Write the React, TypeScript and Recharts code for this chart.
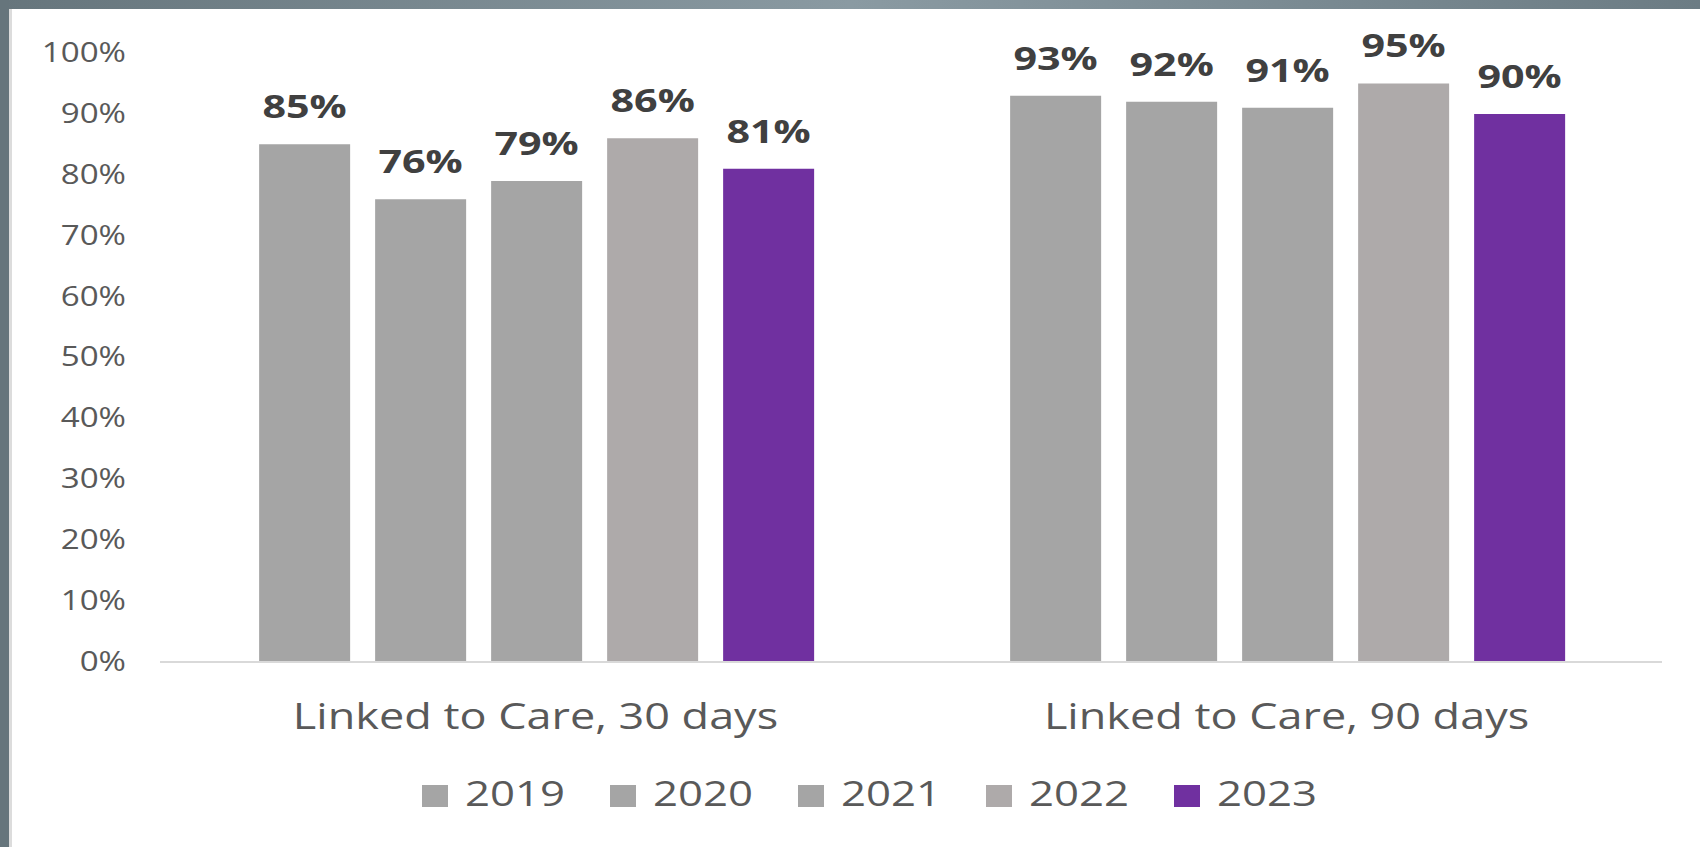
import React from 'react';
import { BarChart, Bar, XAxis, YAxis, Legend, LabelList } from 'recharts';

const categories = ['Linked to Care, 30 days', 'Linked to Care, 90 days'];
const years = ['2019', '2020', '2021', '2022', '2023'];
const values2019 = [85, 93];
const values2020 = [76, 92];
const values2021 = [79, 91];
const values2022 = [86, 95];
const values2023 = [81, 90];
const yTicks = [0, 10, 20, 30, 40, 50, 60, 70, 80, 90, 100];

const seriesValues = [values2019, values2020, values2021, values2022, values2023];
const colors = ['#a5a5a5', '#a5a5a5', '#a5a5a5', '#aeaaaa', '#7030a0'];

const data = categories.map((name, i) => {
  const row: Record<string, string | number> = { name };
  years.forEach((y, j) => {
    row[y] = seriesValues[j][i];
  });
  return row;
});

const FONT = '"Open Sans", sans-serif';
// the reference text is a bit wider than Open Sans, so stretch it horizontally
const STRETCH = 1.25;

const stretch = (x: number, y: number) =>
  `translate(${x} ${y}) scale(${STRETCH} 1) translate(${-x} ${-y})`;

const YTick = (props: any) => {
  const { x, y, payload } = props;
  return (
    <text x={x} y={y} dy={9} textAnchor="end" fontFamily={FONT} fontSize={26.5} fill="#595959" transform={stretch(x, y)}>
      {`${payload.value}%`}
    </text>
  );
};

const XTick = (props: any) => {
  const { x, y, payload } = props;
  return (
    <text x={x} y={y} dy={67} textAnchor="middle" fontFamily={FONT} fontSize={36} fill="#595959" transform={stretch(x, y)}>
      {payload.value}
    </text>
  );
};

const ValueLabel = (props: any) => {
  const { x, y, width, value } = props;
  const cx = x + width / 2;
  const ty = y - 26;
  return (
    <text x={cx} y={ty} textAnchor="middle" fontFamily={FONT} fontWeight={700} fontSize={33} fill="#404040" transform={stretch(cx, ty)}>
      {`${value}%`}
    </text>
  );
};

const LegendContent = (props: any) => {
  const { payload } = props;
  return (
    <div style={{ display: 'flex', height: 40 }}>
      {(payload || []).map((entry: any) => (
        <div key={entry.value} style={{ position: 'relative', width: 188, height: 40 }}>
          <div style={{ position: 'absolute', left: 0, top: 12, width: 26, height: 22, background: entry.color }} />
          <span
            style={{
              position: 'absolute',
              left: 43,
              top: 0,
              lineHeight: '40px',
              fontFamily: FONT,
              fontSize: 35,
              color: '#595959',
              whiteSpace: 'nowrap',
              transform: `scaleX(${STRETCH})`,
              transformOrigin: 'left center',
            }}
          >
            {entry.value}
          </span>
        </div>
      ))}
    </div>
  );
};

export default function App() {
  return (
    <div style={{ position: 'relative', width: 1700, height: 847, background: '#ffffff', overflow: 'hidden' }}>
      <style>{'body{margin:0}'}</style>
      <BarChart
        width={1700}
        height={847}
        data={data}
        margin={{ top: 53, right: 38, left: 0, bottom: 45 }}
        barCategoryGap="13.2%"
        barGap={25}
      >
        <XAxis
          dataKey="name"
          height={100}
          tickLine={false}
          tickSize={0}
          tickMargin={0}
          axisLine={{ stroke: '#d9d9d9', strokeWidth: 2 }}
          tick={<XTick />}
        />
        <YAxis
          width={160}
          domain={[0, 100]}
          ticks={yTicks}
          tickLine={false}
          axisLine={false}
          tickSize={0}
          tickMargin={34}
          tick={<YTick />}
        />
        <Legend
          verticalAlign="bottom"
          height={40}
          content={<LegendContent />}
          wrapperStyle={{ left: 422, top: 773, width: 940, height: 40 }}
        />
        {years.map((y, i) => (
          <Bar key={y} dataKey={y} fill={colors[i]} isAnimationActive={false}>
            <LabelList dataKey={y} content={<ValueLabel />} />
          </Bar>
        ))}
      </BarChart>
      <div
        style={{
          position: 'absolute',
          left: 0,
          top: 0,
          width: 1700,
          height: 9,
          background: 'linear-gradient(to right, #66757c 0%, #8a9aa2 50%, #6c7c84 100%)',
        }}
      />
      <div style={{ position: 'absolute', left: 0, top: 0, width: 9, height: 847, background: '#66757c' }} />
      <div style={{ position: 'absolute', left: 9, top: 9, width: 3, height: 838, background: '#dcdcdc' }} />
    </div>
  );
}
